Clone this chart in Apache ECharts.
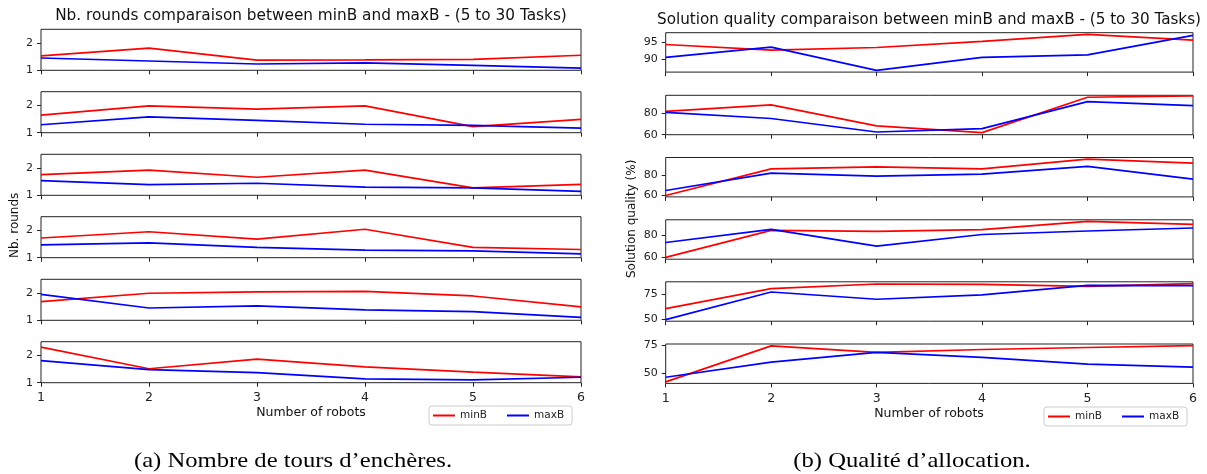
<!DOCTYPE html>
<html><head><meta charset="utf-8">
<script src="https://cdn.jsdelivr.net/npm/echarts@6/dist/echarts.min.js"></script>
<style>html,body{margin:0;padding:0;background:#fff}#c{width:1207px;height:474px}</style>
</head><body><div id="c"></div>
<script>
// ---- data ----
const robots = [1, 2, 3, 4, 5, 6];
const roundsMinB = [
  [1.53, 1.81, 1.37, 1.38, 1.40, 1.55],
  [1.64, 1.98, 1.86, 1.98, 1.22, 1.49],
  [1.76, 1.92, 1.66, 1.92, 1.27, 1.40],
  [1.72, 1.95, 1.68, 2.04, 1.38, 1.30],
  [1.68, 1.99, 2.04, 2.06, 1.89, 1.49],
  [2.30, 1.51, 1.86, 1.58, 1.39, 1.21]
];
const roundsMaxB = [
  [1.45, 1.34, 1.23, 1.27, 1.18, 1.08],
  [1.29, 1.58, 1.45, 1.31, 1.27, 1.17],
  [1.54, 1.39, 1.44, 1.30, 1.27, 1.14],
  [1.47, 1.54, 1.38, 1.28, 1.25, 1.14],
  [1.95, 1.45, 1.53, 1.38, 1.32, 1.11],
  [1.81, 1.48, 1.37, 1.14, 1.10, 1.20]
];
const qualityMinB = [
  [94.3, 92.6, 93.4, 95.2, 97.3, 95.6],
  [81.6, 87.6, 68.2, 61.9, 94.7, 96.0],
  [59.7, 86.8, 88.8, 86.8, 96.6, 92.6],
  [60.0, 84.4, 83.5, 85.0, 92.5, 89.8],
  [60.6, 80.6, 85.3, 85.0, 83.0, 85.6],
  [41.9, 74.7, 68.7, 71.4, 73.2, 75.0]
];
const qualityMaxB = [
  [90.5, 93.5, 86.6, 90.5, 91.2, 97.0],
  [80.6, 75.0, 62.5, 65.6, 90.6, 86.9],
  [64.8, 82.4, 79.3, 81.4, 89.2, 76.3],
  [73.4, 85.3, 70.1, 80.6, 83.8, 86.5],
  [49.6, 77.3, 70.0, 74.3, 84.0, 83.6],
  [46.1, 59.9, 68.7, 64.2, 58.1, 55.4]
];
const roundsTicks = [1, 2];
const roundsRange = [1, 2.5];
const qualityTicks = [[90, 95], [60, 80], [60, 80], [60, 80], [50, 75], [50, 75]];
const qualityRanges = [[86.1, 97.8], [60, 96.5], [58.3, 98.3], [58.3, 93.9], [48, 87.5], [40.5, 76.4]];
const seriesNames = ['minB', 'maxB'];
const titleLeft = 'Nb. rounds comparaison between minB and maxB - (5 to 30 Tasks)';
const titleRight = 'Solution quality comparaison between minB and maxB - (5 to 30 Tasks)';
const xLabel = 'Number of robots';
const yLabelLeft = 'Nb. rounds';
const yLabelRight = 'Solution quality (%)';
const captionA = '(a) Nombre de tours d\u2019ench\u00e8res.';
const captionB = '(b) Qualit\u00e9 d\u2019allocation.';

// ---- layout ----
const FONT = 'DejaVu Sans';
const INK = '#222';
const RED = '#ff0000', BLUE = '#0000ff';
const L = {left: 41, width: 540, height: 41, tops: [29.3, 91.7, 154.3, 216.7, 279.3, 341.7]};
const R = {left: 665.7, width: 527.3, height: 39.4, tops: [32.7, 95.3, 157.5, 219.8, 281.8, 344]};

const grids = [], xAxes = [], yAxes = [], series = [];
function addPanel(P, minArr, maxArr, ticksFor, rangeFor) {
  for (let k = 0; k < 6; k++) {
    const gi = grids.length;
    grids.push({left: P.left, top: P.tops[k], width: P.width, height: P.height,
      show: true, borderColor: INK, borderWidth: 1, containLabel: false});
    xAxes.push({type: 'value', gridIndex: gi, min: 1, max: 6, interval: 1,
      axisLine: {show: false}, splitLine: {show: false},
      axisTick: {show: true, length: 4, lineStyle: {color: INK}},
      axisLabel: {show: k === 5, fontFamily: FONT, fontSize: 12.5, color: INK, margin: 9}});
    const t = ticksFor(k), r = rangeFor(k);
    yAxes.push({type: 'value', gridIndex: gi, min: r[0], max: r[1],
      axisLine: {show: false}, splitLine: {show: false},
      axisTick: {show: true, length: 4, lineStyle: {color: INK}, customValues: t},
      axisLabel: {fontFamily: FONT, fontSize: 11, color: INK, margin: 8, customValues: t}});
    [[minArr[k], RED, seriesNames[0]], [maxArr[k], BLUE, seriesNames[1]]].forEach(([vals, col, nm]) => {
      series.push({type: 'line', name: nm, xAxisIndex: gi, yAxisIndex: gi,
        data: robots.map((x, i) => [x, vals[i]]), symbol: 'none', showSymbol: false,
        lineStyle: {color: col, width: 1.7}, itemStyle: {color: col}, animation: false});
    });
  }
}
addPanel(L, roundsMinB, roundsMaxB, () => roundsTicks, () => roundsRange);
addPanel(R, qualityMinB, qualityMaxB, k => qualityTicks[k], k => qualityRanges[k]);

function legendAt(left, top) {
  return {left: left, top: top, orient: 'horizontal', data: seriesNames, icon: 'rect',
    itemWidth: 22, itemHeight: 2, itemGap: 20, padding: [4, 8, 4, 4],
    borderColor: '#ccc', borderWidth: 1, borderRadius: 3, backgroundColor: '#fff',
    textStyle: {fontFamily: FONT, fontSize: 10.5, color: INK}, selectedMode: false};
}
function txt(x, y, s, size, opts) {
  return Object.assign({type: 'text', x: x, y: y, silent: true,
    style: Object.assign({text: s, fontFamily: FONT, fontSize: size, fill: '#111',
      align: 'center', verticalAlign: 'middle'}, (opts && opts.style) || {})}, opts && opts.el || {});
}
const graphics = [
  txt(311, 16.5, titleLeft, 15.3),
  txt(929, 20.5, titleRight, 15.2),
  txt(311, 413, xLabel, 12.5),
  txt(929, 414, xLabel, 12.5),
  txt(15, 258, yLabelLeft, 12, {style: {align: 'left'}, el: {rotation: Math.PI / 2}}),
  txt(631.5, 278, yLabelRight, 12, {style: {align: 'left'}, el: {rotation: Math.PI / 2}}),
  txt(293, 461, captionA, 22, {style: {fontFamily: 'Liberation Serif', fill: '#000'}, el: {scaleX: 1.12}}),
  txt(912, 461, captionB, 22, {style: {fontFamily: 'Liberation Serif', fill: '#000'}, el: {scaleX: 1.12}})
];

const chart = echarts.init(document.getElementById('c'), null, {renderer: 'canvas'});
chart.setOption({
  animation: false,
  backgroundColor: '#fff',
  grid: grids, xAxis: xAxes, yAxis: yAxes, series: series,
  legend: [legendAt(429, 406), legendAt(1044, 407)],
  graphic: graphics
});
</script></body></html>
